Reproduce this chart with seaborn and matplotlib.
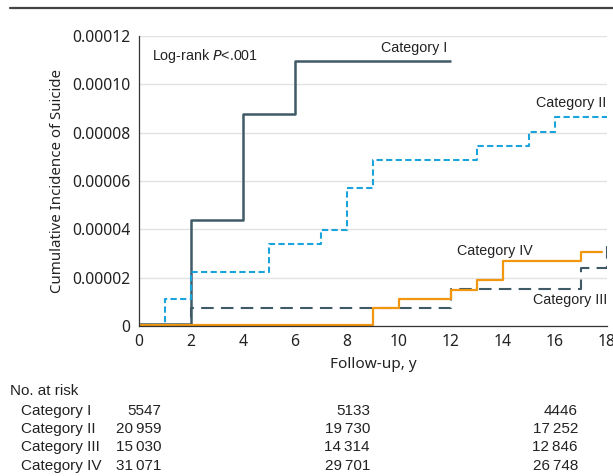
import matplotlib
matplotlib.use("Agg")
import matplotlib.pyplot as plt
import matplotlib.lines as mlines
import seaborn as sns
import numpy as np

# ---------------------------------------------- data ----------------------------------------------

times_i = [0, 2, 4, 6, 12]
inc_i = [0.0000007, 0.0000438, 0.0000877, 0.0001096, 0.0001096]

times_ii = [0, 1, 2, 5, 7, 8, 9, 13, 15, 16, 18]
inc_ii = [0.0000005, 0.0000111, 0.0000224, 0.0000341, 0.0000396, 0.0000572,
          0.0000686, 0.0000744, 0.0000803, 0.0000863, 0.0000863]

times_iii = [0, 2, 12, 17, 18]
inc_iii = [0.0000005, 0.0000076, 0.0000155, 0.0000238, 0.0000347]

times_iv = [0, 9, 10, 12, 13, 14, 17, 17.8]
inc_iv = [0.0000003, 0.0000073, 0.0000111, 0.0000148, 0.0000190, 0.0000267, 0.0000305, 0.0000305]

categories = ['Category I', 'Category II', 'Category III', 'Category IV']
at_risk_0 = ['5547', '20\u2009959', '15\u2009030', '31\u2009071']
at_risk_1 = ['5133', '19\u2009730', '14\u2009314', '29\u2009701']
at_risk_2 = ['4446', '17\u2009252', '12\u2009846', '26\u2009748']

x_ticks = list(range(0, 19, 2))
y_ticks = [0, 0.00002, 0.00004, 0.00006, 0.00008, 0.00010, 0.00012]

# ---------------------------------------------- style ----------------------------------------------

sns.set_style('white')
plt.rcParams['font.family'] = ['Noto Sans', 'DejaVu Sans']
TXT = '#222222'
LAB = ['Liberation Sans Narrow', 'Liberation Sans', 'DejaVu Sans']

slate = '#3f5a66'
blue = '#1ba3dc'
orange = '#f0960f'

fig = plt.figure(figsize=(6.13, 4.76), dpi=100)
W, H = 613, 476
ax = fig.add_axes([139 / W, 1 - 326 / H, 468 / W, 290 / H])

# curves
ax.step(times_i, inc_i, where='post', color=slate, lw=1.8, solid_capstyle='butt')
ax.step(times_ii, inc_ii, where='post', color=blue, lw=1.5, dashes=(3, 1.6))
ax.step(times_iii, inc_iii, where='post', color=slate, lw=1.5, dashes=(6, 3.5))
ax.step(times_iv, inc_iv, where='post', color=orange, lw=1.6)

ax.set_xlim(0, 18)
ax.set_ylim(0, 0.00012)
ax.set_xticks(x_ticks)
ax.set_yticks(y_ticks)
ax.set_yticklabels(['0' if v == 0 else f'{v:.5f}' for v in y_ticks])
ax.tick_params(axis='both', direction='out', length=4, width=0.9, color='#333333',
               labelsize=11.3, labelcolor=TXT, pad=2)

ax.yaxis.grid(True, color='#e2e2e2', lw=1)
ax.xaxis.grid(False)
ax.set_axisbelow(True)
for s in ['top', 'right']:
    ax.spines[s].set_visible(False)
for s in ['left', 'bottom']:
    ax.spines[s].set_color('#333333')
    ax.spines[s].set_linewidth(0.9)

ax.set_xlabel('Follow-up, y', fontsize=11, color=TXT, labelpad=5)
ax.set_ylabel('Cumulative Incidence of Suicide', fontsize=10.8, color=TXT, labelpad=5)

# labels on the plot
def px(x, y):
    return x / W, 1 - y / H

fig.text(*px(152, 56), 'Log-rank $\\it{P}$<.001', fontsize=10.3, color=TXT, va='center', family=LAB)
fig.text(*px(447, 48), 'Category I', fontsize=10.3, color=TXT, va='center', ha='right', family=LAB)
fig.text(*px(606, 103), 'Category II', fontsize=10.3, color=TXT, va='center', ha='right', family=LAB)
fig.text(*px(533, 251), 'Category IV', fontsize=10.3, color=TXT, va='center', ha='right', family=LAB)
fig.text(*px(607, 300), 'Category III', fontsize=10.3, color=TXT, va='center', ha='right', family=LAB)

# top rule
fig.add_artist(mlines.Line2D([10 / W, 1], [1 - 8 / H, 1 - 8 / H], color='#444444', lw=1.6))

# number at risk table
fig.text(*px(10, 391), 'No. at risk', fontsize=11, color=TXT, va='center', family=LAB)
row_y = [411, 429, 447, 466]
col_x = [161, 370, 578]
for i, cat in enumerate(categories):
    fig.text(*px(21, row_y[i]), cat, fontsize=11, color=TXT, va='center', family=LAB)
    for cx, vals in zip(col_x, [at_risk_0, at_risk_1, at_risk_2]):
        fig.text(*px(cx, row_y[i]), vals[i], fontsize=11, color=TXT, va='center', ha='right', family=LAB)

fig.savefig('out.png', dpi=100)
